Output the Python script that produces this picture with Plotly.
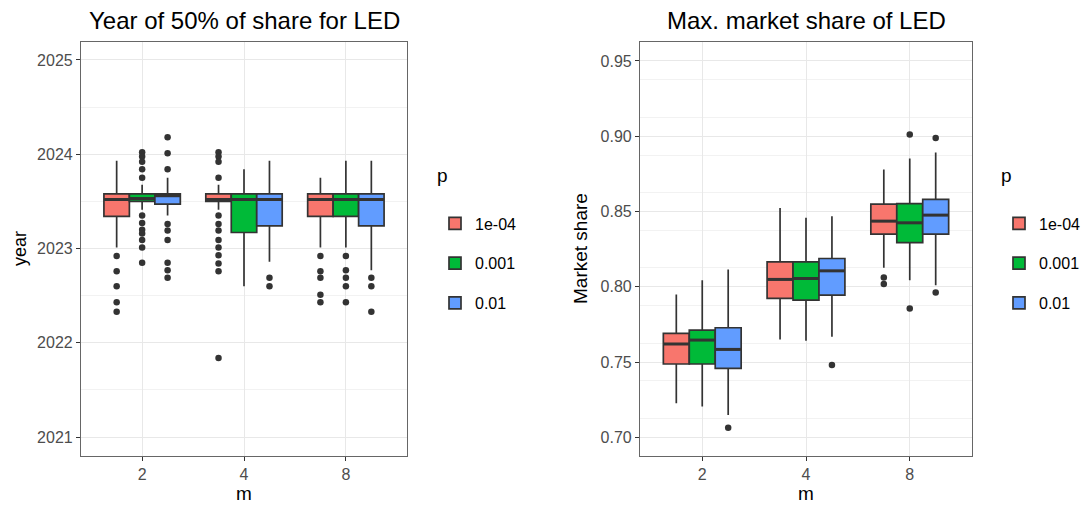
import plotly.graph_objects as go

m_labels = ["2", "4", "8"]
p_labels = ["1e-04", "0.001", "0.01"]
p_colors = ["#F8766D", "#00BA38", "#619CFF"]

# Year of 50% share: [p][m] -> (lowerfence, q1, median, q3, upperfence)
year_lf = [[2023.01, 2023.41, 2023.01], [2023.41, 2022.60, 2023.01], [2023.35, 2022.86, 2022.77]]
year_q1 = [[2023.34, 2023.50, 2023.34], [2023.50, 2023.17, 2023.34], [2023.47, 2023.24, 2023.24]]
year_med = [[2023.52, 2023.52, 2023.52], [2023.53, 2023.52, 2023.52], [2023.56, 2023.52, 2023.52]]
year_q3 = [[2023.58, 2023.58, 2023.58], [2023.58, 2023.58, 2023.58], [2023.58, 2023.58, 2023.58]]
year_uf = [[2023.93, 2023.675, 2023.75], [2023.675, 2023.84, 2023.93], [2023.75, 2023.93, 2023.93]]
year_out = [
    [[2022.92, 2022.76, 2022.60, 2022.43, 2022.33],
     [2024.02, 2023.975, 2023.92, 2023.75, 2023.35, 2023.26, 2023.19, 2023.09, 2023.01, 2022.93, 2022.84, 2022.76, 2021.84],
     [2022.92, 2022.76, 2022.69, 2022.51, 2022.43]],
    [[2024.02, 2023.975, 2023.92, 2023.84, 2023.75, 2023.35, 2023.27, 2023.20, 2023.16, 2023.09, 2023.01, 2022.85],
     [],
     [2022.92, 2022.77, 2022.69, 2022.60, 2022.43]],
    [[2024.18, 2024.01, 2023.84, 2023.26, 2023.19, 2023.09, 2022.85, 2022.77, 2022.69],
     [2022.69, 2022.60],
     [2022.69, 2022.60, 2022.33]],
]

# Max market share: [p][m]
share_lf = [[0.7226, 0.7650, 0.8126], [0.7204, 0.7642, 0.8044], [0.7148, 0.7668, 0.8011]]
share_q1 = [[0.7487, 0.7923, 0.8350], [0.7487, 0.7912, 0.8294], [0.7458, 0.7945, 0.8350]]
share_med = [[0.7620, 0.8049, 0.8436], [0.7646, 0.8055, 0.8425], [0.7584, 0.8106, 0.8476]]
share_q3 = [[0.7690, 0.8166, 0.8549], [0.7712, 0.8166, 0.8553], [0.7728, 0.8188, 0.8580]]
share_uf = [[0.7949, 0.8524, 0.8779], [0.8044, 0.8458, 0.8852], [0.8115, 0.8469, 0.8892]]
share_out = [
    [[], [], [0.8062, 0.8018]],
    [[], [], [0.9011, 0.7856]],
    [[0.7064], [0.7480], [0.8989, 0.7962]],
]

DODGE = 0.25
LINE = "#333333"
FONT = "Liberation Sans, Arial, sans-serif"

# the page body has an 8px margin; lay the figure out in window pixels minus that offset
OFF = 8
W, H = 1089 - OFF, 509 - OFF
ML, MR, MT, MB = 81 - OFF, 1089 - 972, 42 - OFF, 509 - 456
PW = W - ML - MR
PH = H - MT - MB

fig = go.Figure()


def add_panel(xa, ya, lf, q1, med, q3, uf, out, legend):
    for i, (pl, col) in enumerate(zip(p_labels, p_colors)):
        xs = [j + 1 + (i - 1) * DODGE for j in range(len(m_labels))]
        fig.add_trace(go.Box(
            x=xs, lowerfence=lf[i], q1=q1[i], median=med[i], q3=q3[i], upperfence=uf[i],
            width=DODGE, fillcolor=col, line=dict(color=LINE, width=1.7),
            whiskerwidth=0, boxpoints=False, name=pl, legendgroup=legend + pl,
            legend=legend, showlegend=True, xaxis=xa, yaxis=ya, hoverinfo="skip",
        ))
        # thicker median line (ggplot style)
        fig.add_trace(go.Scatter(
            x=xs, y=med[i], mode="markers",
            marker=dict(symbol="line-ew", size=18, line=dict(color=LINE, width=3)),
            showlegend=False, xaxis=xa, yaxis=ya, hoverinfo="skip",
        ))
        ox, oy = [], []
        for j in range(len(m_labels)):
            for v in out[i][j]:
                ox.append(xs[j])
                oy.append(v)
        fig.add_trace(go.Scatter(
            x=ox, y=oy, mode="markers", marker=dict(color=LINE, size=6.5),
            showlegend=False, xaxis=xa, yaxis=ya, hoverinfo="skip",
        ))


add_panel("x", "y", year_lf, year_q1, year_med, year_q3, year_uf, year_out, "legend")
add_panel("x2", "y2", share_lf, share_q1, share_med, share_q3, share_uf, share_out, "legend2")

grid = "#E8E8E8"
tickfont = dict(family=FONT, size=16, color="#4D4D4D")
axtitle = dict(family=FONT, size=19, color="black")

xcommon = dict(
    range=[0.4, 3.6], tickvals=[1, 2, 3], ticktext=m_labels, showgrid=True, gridcolor=grid,
    gridwidth=1.2, zeroline=False, showline=True, linecolor="#666666", linewidth=1.2, mirror=True,
    ticks="outside", ticklen=4, tickcolor="#333333", tickfont=tickfont, automargin=False,
)
ycommon = dict(
    showgrid=True, gridcolor=grid, gridwidth=1.2, zeroline=False, showline=True,
    linecolor="#666666", linewidth=1.2, mirror=True, ticks="outside", ticklen=4,
    tickcolor="#333333", tickfont=tickfont, automargin=False,
)

legend_common = dict(
    xanchor="left", yanchor="top",
    title=dict(text="p<br> ", font=dict(family=FONT, size=19, color="black")),
    font=dict(family=FONT, size=16, color="black"), tracegroupgap=16,
    bgcolor="rgba(0,0,0,0)",
)
LEG_TOP = 157 - OFF

fig.update_layout(
    width=W, height=H,
    margin=dict(l=ML, r=MR, t=MT, b=MB, autoexpand=False),
    paper_bgcolor="white", plot_bgcolor="white",
    boxmode="overlay",
    font=dict(family=FONT),
    xaxis=dict(domain=[0, (407 - OFF - ML) / PW], anchor="y", **xcommon),
    xaxis2=dict(domain=[(640 - OFF - ML) / PW, 1], anchor="y2", **xcommon),
    yaxis=dict(domain=[0, 1], anchor="x", range=[2020.80, 2025.19],
               tickvals=[2021, 2022, 2023, 2024, 2025],
               minor=dict(showgrid=True, gridcolor="#F2F2F2", dtick=0.5, tick0=2020.5),
               **ycommon),
    yaxis2=dict(domain=[0, 1], anchor="x2", range=[0.6876, 0.9626],
                tickvals=[0.70, 0.75, 0.80, 0.85, 0.90, 0.95], tickformat=".2f",
                minor=dict(showgrid=True, gridcolor="#F2F2F2", dtick=0.025, tick0=0.6875),
                **ycommon),
    legend=dict(x=(435 - OFF - ML) / PW, y=1 - (LEG_TOP - MT) / PH, **legend_common),
    legend2=dict(x=(999 - OFF - ML) / PW, y=1 - (LEG_TOP - MT) / PH, **legend_common),
    annotations=[
        dict(text="Year of 50% of share for LED", x=0.5, xref="x domain", y=1, yref="y domain",
             yanchor="middle", yshift=22, showarrow=False,
             font=dict(family=FONT, size=24, color="black")),
        dict(text="Max. market share of LED", x=0.5, xref="x2 domain", y=1, yref="y2 domain",
             yanchor="middle", yshift=22, showarrow=False,
             font=dict(family=FONT, size=24, color="black")),
        dict(text="m", x=0.5, xref="x domain", y=0, yref="y domain", yanchor="middle",
             yshift=-37, showarrow=False, font=axtitle),
        dict(text="m", x=0.5, xref="x2 domain", y=0, yref="y2 domain", yanchor="middle",
             yshift=-37, showarrow=False, font=axtitle),
        dict(text="year", x=0, xref="x domain", y=0.5, yref="y domain", xanchor="center",
             xshift=-61, textangle=-90, showarrow=False,
             font=dict(family=FONT, size=18, color="black")),
        dict(text="Market share", x=0, xref="x2 domain", y=0.5, yref="y2 domain", xanchor="center",
             xshift=-60, textangle=-90, showarrow=False, font=axtitle),
    ],
)

fig.write_html("out.html")
